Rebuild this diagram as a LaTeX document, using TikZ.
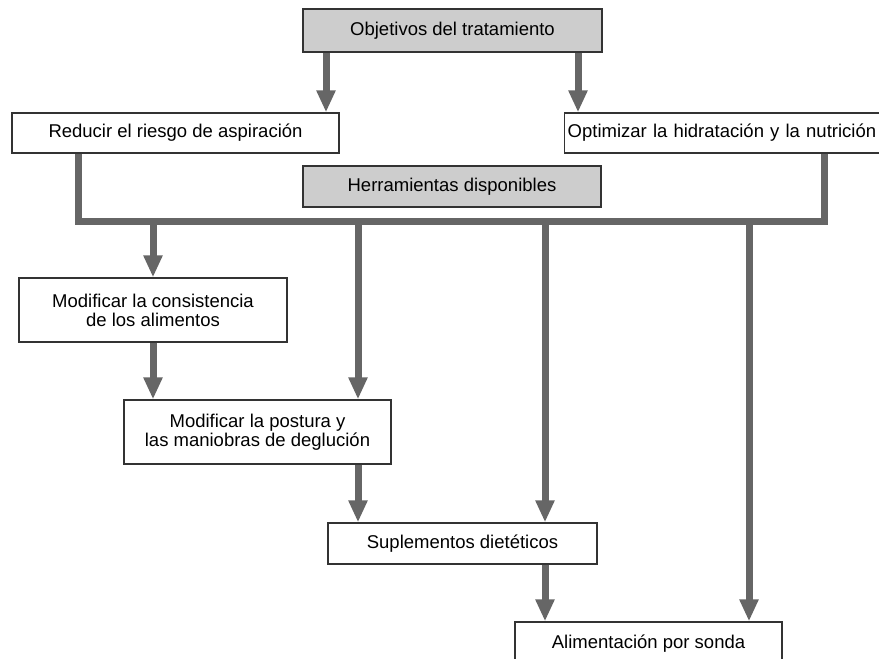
\documentclass[tikz,border=0pt]{standalone}
\usepackage{fontspec}
\setmainfont{Liberation Sans}
\usetikzlibrary{arrows.meta}
\definecolor{arrowgray}{HTML}{666666}
\definecolor{boxgray}{HTML}{CDCDCD}
\definecolor{edgegray}{HTML}{333333}
\tikzset{
  box/.style={draw=edgegray, line width=1.4pt, fill=white, inner sep=0pt, align=center,
    font=\fontsize{18.5pt}{19pt}\selectfont, text=black},
  graybox/.style={box, fill=boxgray},
  arr/.style={draw=arrowgray, line width=7pt, -{Triangle[length=22pt,width=18pt]}},
  busline/.style={draw=arrowgray, line width=7pt, line join=miter}
}
\begin{document}
\begin{tikzpicture}[x=1pt,y=-1pt]
\useasboundingbox (0,0) rectangle (879,659);
% nodes
\node[graybox, minimum width=299pt, minimum height=43pt] (obj) at (452.5,30.5) {Objetivos del tratamiento};
\node[box, minimum width=327pt, minimum height=40pt] (red) at (175.5,133) {Reducir el riesgo de aspiración};
\node[box, anchor=west, text width=330pt, inner xsep=3pt, align=left, minimum height=40pt] (opt) at (564,133) {Optimizar la hidratación y la nutrición};
\node[graybox, minimum width=298pt, minimum height=41pt] (her) at (452,186.5) {Herramientas disponibles};
\node[box, minimum width=268pt, minimum height=64pt] (cons) at (153,310) {Modificar la consistencia\\de los alimentos};
\node[box, minimum width=267pt, minimum height=64pt] (post) at (257.5,432) {Modificar la postura y\\las maniobras de deglución};
\node[box, minimum width=269pt, minimum height=41pt] (supl) at (462.5,543.5) {Suplementos dietéticos};
\node[box, minimum width=267pt, minimum height=44pt] (alim) at (648.5,644) {Alimentación por sonda};
% coordinates
\coordinate (a1) at (326,0);
\coordinate (a2) at (578,0);
\coordinate (bL) at (78,221);
\coordinate (bR) at (824,221);
\coordinate (b1) at (153,221);
\coordinate (b2) at (358,221);
\coordinate (b3) at (545,221);
\coordinate (b4) at (749,221);
% connectors
\draw[arr] (obj.south -| a1) -- (red.north -| a1);
\draw[arr] (obj.south -| a2) -- (opt.north -| a2);
\draw[busline] (red.south -| bL) -- (bL) -- (bR) -- (opt.south -| bR);
\draw[arr] (b1) -- (cons.north -| b1);
\draw[arr] (b2) -- (post.north -| b2);
\draw[arr] (b3) -- (supl.north -| b3);
\draw[arr] (b4) -- (alim.north -| b4);
\draw[arr] (cons.south -| b1) -- (post.north -| b1);
\draw[arr] (post.south -| b2) -- (supl.north -| b2);
\draw[arr] (supl.south -| b3) -- (alim.north -| b3);
\end{tikzpicture}
\end{document}
